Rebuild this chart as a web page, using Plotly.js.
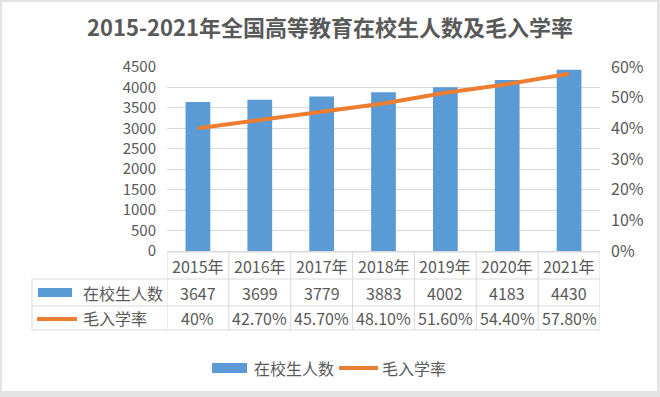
<!DOCTYPE html>
<html><head><meta charset="utf-8">
<script src="https://cdn.plot.ly/plotly-3.0.1.min.js"></script>
<style>html,body{margin:0;padding:0;background:#fff;}#chart{width:660px;height:397px;}</style>
</head><body><div id="chart"></div>
<script>
const years = ['2015年','2016年','2017年','2018年','2019年','2020年','2021年'];
const students = [3647, 3699, 3779, 3883, 4002, 4183, 4430];
const rates = [0.40, 0.427, 0.457, 0.481, 0.516, 0.544, 0.578];
const rateLabels = ['40%','42.70%','45.70%','48.10%','51.60%','54.40%','57.80%'];
const seriesNames = ['在校生人数','毛入学率'];
const chartTitle = '2015-2021年全国高等教育在校生人数及毛入学率';

const W = 660, H = 397, L = 167, R = 60, T = 67, B = 146;
const PW = W - L - R, PH = H - T - B;
const px = X => (X - L) / PW;
const py = Y => (H - B - Y) / PH;

const FONT = '"Noto Sans CJK SC", "Noto Sans", sans-serif';
const TXT = '#595959';
const GRID = '#d9d9d9';
const BLUE = '#5B9BD5', ORANGE = '#ED7D31';

const idx = years.map((_, i) => i);
const shapes = [];
const annotations = [];

// chart frame (white card on light grey edge)
shapes.push({type:'rect', xref:'paper', yref:'paper', layer:'below',
  x0:px(2), x1:px(657), y0:py(391), y1:py(2), fillcolor:'#ffffff', line:{width:0}});

// table: vertical lines at category boundaries
for (let i = 0; i <= years.length; i++) {
  shapes.push({type:'line', xref:'x', yref:'paper', x0:i-0.5, x1:i-0.5,
    y0:py(252), y1:py(330), line:{color:GRID, width:1}});
}
// label column left edge
shapes.push({type:'line', xref:'paper', yref:'paper', x0:px(32), x1:px(32),
  y0:py(279), y1:py(330), line:{color:GRID, width:1}});
// horizontal lines
shapes.push({type:'line', xref:'paper', yref:'paper', x0:0, x1:1, y0:py(252), y1:py(252), line:{color:GRID, width:1}});
[279, 306, 330].forEach(Y => shapes.push({type:'line', xref:'paper', yref:'paper',
  x0:px(32), x1:1, y0:py(Y), y1:py(Y), line:{color:GRID, width:1}}));

// table cell texts
const rowY = [py(265.5), py(292.5), py(318)];
idx.forEach(i => {
  annotations.push({xref:'x', yref:'paper', x:i, y:rowY[0], text:years[i], showarrow:false,
    font:{family:FONT, size:16, color:TXT}, xanchor:'center', yanchor:'middle'});
  annotations.push({xref:'x', yref:'paper', x:i, y:rowY[1], text:String(students[i]), showarrow:false,
    font:{family:FONT, size:16, color:TXT}, xanchor:'center', yanchor:'middle'});
  annotations.push({xref:'x', yref:'paper', x:i, y:rowY[2], text:rateLabels[i], showarrow:false,
    font:{family:FONT, size:16, color:TXT}, xanchor:'center', yanchor:'middle'});
});
// table row labels with keys
shapes.push({type:'rect', xref:'paper', yref:'paper', x0:px(38), x1:px(72), y0:py(297), y1:py(288),
  fillcolor:BLUE, line:{width:0}});
shapes.push({type:'line', xref:'paper', yref:'paper', x0:px(37), x1:px(77), y0:py(319), y1:py(319),
  line:{color:ORANGE, width:4}});
annotations.push({xref:'paper', yref:'paper', x:px(81), y:rowY[1], text:seriesNames[0], showarrow:false,
  font:{family:FONT, size:16, color:TXT}, xanchor:'left', yanchor:'middle'});
annotations.push({xref:'paper', yref:'paper', x:px(81), y:rowY[2], text:seriesNames[1], showarrow:false,
  font:{family:FONT, size:16, color:TXT}, xanchor:'left', yanchor:'middle'});

// bottom legend
shapes.push({type:'rect', xref:'paper', yref:'paper', x0:px(212), x1:px(247), y0:py(373), y1:py(363),
  fillcolor:BLUE, line:{width:0}});
shapes.push({type:'line', xref:'paper', yref:'paper', x0:px(339), x1:px(378), y0:py(368), y1:py(368),
  line:{color:ORANGE, width:4}});
annotations.push({xref:'paper', yref:'paper', x:px(252), y:py(368), text:seriesNames[0], showarrow:false,
  font:{family:FONT, size:16, color:TXT}, xanchor:'left', yanchor:'middle'});
annotations.push({xref:'paper', yref:'paper', x:px(380), y:py(368), text:seriesNames[1], showarrow:false,
  font:{family:FONT, size:16, color:TXT}, xanchor:'left', yanchor:'middle'});

const traces = [
  {type:'bar', x:idx, y:students, name:seriesNames[0], marker:{color:BLUE}, width:0.4,
   hoverinfo:'x+y', showlegend:false},
  {type:'scatter', mode:'lines', x:idx, y:rates, name:seriesNames[1], yaxis:'y2',
   line:{color:ORANGE, width:4}, showlegend:false}
];

const layout = {
  width:W, height:H,
  margin:{l:L, r:R, t:T, b:B, pad:0},
  paper_bgcolor:'#e3e3e3', plot_bgcolor:'rgba(0,0,0,0)',
  title:{text:chartTitle, x:0.5, xref:'container', xanchor:'center', y:1-28/H, yref:'container', yanchor:'middle',
    font:{family:FONT, size:22, color:TXT, weight:'bold'}},
  showlegend:false,
  xaxis:{range:[-0.5, 6.5], showticklabels:false, showgrid:false, zeroline:false, showline:false, ticks:'', fixedrange:true},
  yaxis:{range:[0, 4500], dtick:500, showgrid:true, gridcolor:GRID, gridwidth:1, zeroline:true, zerolinecolor:GRID,
    showline:false, ticks:'', ticklabelstandoff:10,
    tickfont:{family:FONT, size:15, color:TXT}},
  yaxis2:{range:[0, 0.6], dtick:0.1, tickformat:'.0%', overlaying:'y', side:'right', showgrid:false, zeroline:false,
    showline:false, ticks:'', ticklabelstandoff:10, tickfont:{family:FONT, size:16, color:TXT}},
  shapes:shapes, annotations:annotations
};

Plotly.newPlot('chart', traces, layout, {displayModeBar:false, staticPlot:true});
</script></body></html>
